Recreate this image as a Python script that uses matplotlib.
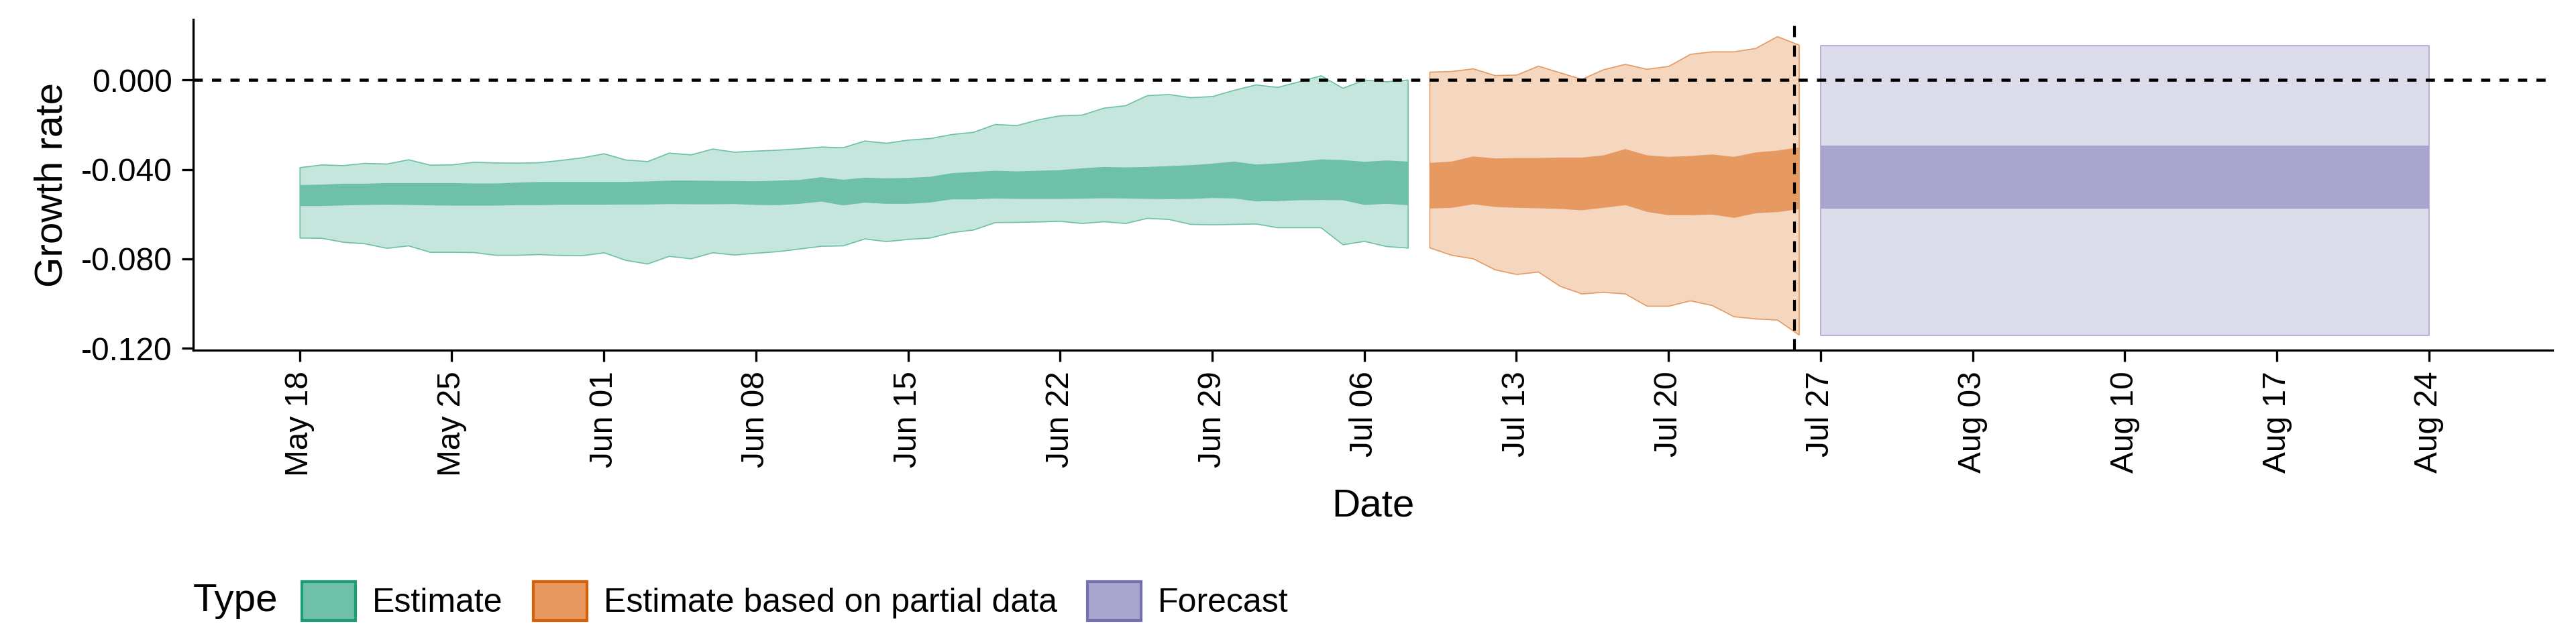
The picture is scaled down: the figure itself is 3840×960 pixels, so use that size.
import numpy as np
import pandas as pd
import matplotlib
matplotlib.use("Agg")
import matplotlib.pyplot as plt
import matplotlib.dates as mdates
from matplotlib.patches import Patch

plt.rcParams['font.family'] = ['Liberation Sans', 'DejaVu Sans']

est_dates = pd.date_range("2020-05-18", periods=52, freq="D")
est_hi90 = [-0.0390,-0.0378,-0.0381,-0.0371,-0.0374,-0.0355,-0.0379,-0.0378,-0.0366,-0.0369,-0.0370,-0.0368,-0.0358,-0.0346,-0.0328,-0.0356,-0.0363,-0.0325,-0.0333,-0.0307,-0.0321,-0.0316,-0.0312,-0.0306,-0.0298,-0.0301,-0.0271,-0.0281,-0.0267,-0.0260,-0.0242,-0.0232,-0.0197,-0.0202,-0.0176,-0.0158,-0.0155,-0.0124,-0.0113,-0.0068,-0.0063,-0.0077,-0.0072,-0.0044,-0.0020,-0.0031,-0.0006,0.0021,-0.0035,0.0002,-0.0006,0.0002]
est_lo90 = [-0.0705,-0.0706,-0.0724,-0.0731,-0.0751,-0.0740,-0.0769,-0.0769,-0.0770,-0.0782,-0.0782,-0.0779,-0.0783,-0.0784,-0.0771,-0.0805,-0.0821,-0.0787,-0.0798,-0.0771,-0.0781,-0.0773,-0.0766,-0.0754,-0.0742,-0.0740,-0.0709,-0.0721,-0.0711,-0.0705,-0.0681,-0.0669,-0.0636,-0.0635,-0.0633,-0.0630,-0.0640,-0.0632,-0.0640,-0.0617,-0.0622,-0.0644,-0.0646,-0.0644,-0.0642,-0.0659,-0.0659,-0.0659,-0.0735,-0.0720,-0.0743,-0.0750]
est_hi50 = [-0.0468,-0.0466,-0.0462,-0.0462,-0.0459,-0.0459,-0.0459,-0.0459,-0.0461,-0.0461,-0.0457,-0.0454,-0.0454,-0.0454,-0.0454,-0.0454,-0.0452,-0.0448,-0.0448,-0.0449,-0.0450,-0.0451,-0.0448,-0.0445,-0.0433,-0.0444,-0.0435,-0.0438,-0.0436,-0.0431,-0.0415,-0.0409,-0.0404,-0.0407,-0.0404,-0.0401,-0.0393,-0.0387,-0.0389,-0.0387,-0.0383,-0.0379,-0.0372,-0.0363,-0.0376,-0.0371,-0.0363,-0.0353,-0.0356,-0.0364,-0.0358,-0.0363]
est_lo50 = [-0.0562,-0.0562,-0.0559,-0.0557,-0.0556,-0.0557,-0.0559,-0.0560,-0.0560,-0.0560,-0.0558,-0.0558,-0.0556,-0.0556,-0.0556,-0.0555,-0.0555,-0.0553,-0.0554,-0.0554,-0.0553,-0.0557,-0.0558,-0.0552,-0.0542,-0.0559,-0.0547,-0.0552,-0.0552,-0.0546,-0.0532,-0.0532,-0.0528,-0.0530,-0.0530,-0.0530,-0.0529,-0.0527,-0.0528,-0.0530,-0.0531,-0.0530,-0.0526,-0.0528,-0.0541,-0.0540,-0.0536,-0.0535,-0.0536,-0.0557,-0.0552,-0.0558]

part_dates = pd.date_range("2020-07-09", periods=18, freq="D")
part_hi90 = [0.0037,0.0040,0.0052,0.0022,0.0024,0.0064,0.0034,0.0005,0.0048,0.0072,0.0050,0.0063,0.0117,0.0128,0.0128,0.0143,0.0196,0.0158]
part_lo90 = [-0.0749,-0.0782,-0.0798,-0.0847,-0.0868,-0.0857,-0.0921,-0.0955,-0.0948,-0.0955,-0.1010,-0.1010,-0.0986,-0.1007,-0.1057,-0.1067,-0.1072,-0.1139]
part_hi50 = [-0.0369,-0.0363,-0.0340,-0.0349,-0.0347,-0.0347,-0.0345,-0.0345,-0.0335,-0.0307,-0.0335,-0.0342,-0.0338,-0.0331,-0.0342,-0.0322,-0.0314,-0.0299]
part_lo50 = [-0.0573,-0.0570,-0.0554,-0.0566,-0.0570,-0.0572,-0.0575,-0.0581,-0.0570,-0.0558,-0.0588,-0.0603,-0.0603,-0.0600,-0.0615,-0.0594,-0.0589,-0.0576]

fc_dates = pd.date_range("2020-07-27", "2020-08-24", freq="D")
fc_hi90, fc_lo90, fc_hi50, fc_lo50 = 0.0155, -0.1141, -0.0294, -0.0576

types = ["Estimate", "Estimate based on partial data", "Forecast"]
line_cols = ["#1B9E77", "#D95F02", "#7570B3"]
dark_cols = ["#6FC0A8", "#E69A62", "#A8A5CF"]
light_cols = ["#C5E6DC", "#F5D6BE", "#DCDBEA"]

fig = plt.figure(figsize=(12.8, 3.2), dpi=300)
ax = fig.add_axes([0.075, 0.456, 0.916, 0.514])

def band(d, lo90, hi90, lo50, hi50, i):
    ax.fill_between(d, lo90, hi90, color=light_cols[i], lw=0.4, edgecolor=dark_cols[i], zorder=1)
    ax.fill_between(d, lo50, hi50, color=dark_cols[i], lw=0, zorder=2)

band(est_dates, est_lo90, est_hi90, est_lo50, est_hi50, 0)
band(part_dates, part_lo90, part_hi90, part_lo50, part_hi50, 1)
n = len(fc_dates)
band(fc_dates, [fc_lo90]*n, [fc_hi90]*n, [fc_lo50]*n, [fc_hi50]*n, 2)

ax.axhline(0, color="black", ls=(0, (3, 3)), lw=1.1, zorder=3)
ax.axvline(pd.Timestamp("2020-07-26") - pd.Timedelta(hours=5), color="black", ls=(0, (4, 3)), lw=1.0, zorder=3)

ax.set_ylim(-0.1209, 0.0272)
ax.set_xlim(pd.Timestamp("2020-05-18") - pd.Timedelta(days=4.9), pd.Timestamp("2020-05-18") + pd.Timedelta(days=103.7))
ax.set_yticks([0.0, -0.04, -0.08, -0.12])
ax.set_yticklabels(["0.000", "-0.040", "-0.080", "-0.120"])
ticks = pd.date_range("2020-05-18", "2020-08-24", freq="7D")
ax.set_xticks(ticks)
ax.set_xticklabels([t.strftime("%b %d") for t in ticks], rotation=90)
ax.tick_params(labelsize=11.5, colors="black", length=4, width=0.8)
for s in ["top", "right"]:
    ax.spines[s].set_visible(False)
for s in ["left", "bottom"]:
    ax.spines[s].set_linewidth(0.8)
ax.set_ylabel("Growth rate", fontsize=14)
ax.set_xlabel("Date", fontsize=14, labelpad=4)

handles = [Patch(facecolor=dark_cols[i], edgecolor=line_cols[i], lw=1.0) for i in range(3)]
fig.text(0.075, 0.067, "Type", fontsize=14, va="center", ha="left")
fig.legend(handles, types, loc="center left", bbox_to_anchor=(0.112, 0.067), ncol=3,
           frameon=False, fontsize=12, handlelength=1.6, handleheight=1.4,
           handletextpad=0.5, columnspacing=0.9, borderaxespad=0)

fig.savefig("out.png", dpi=300)
